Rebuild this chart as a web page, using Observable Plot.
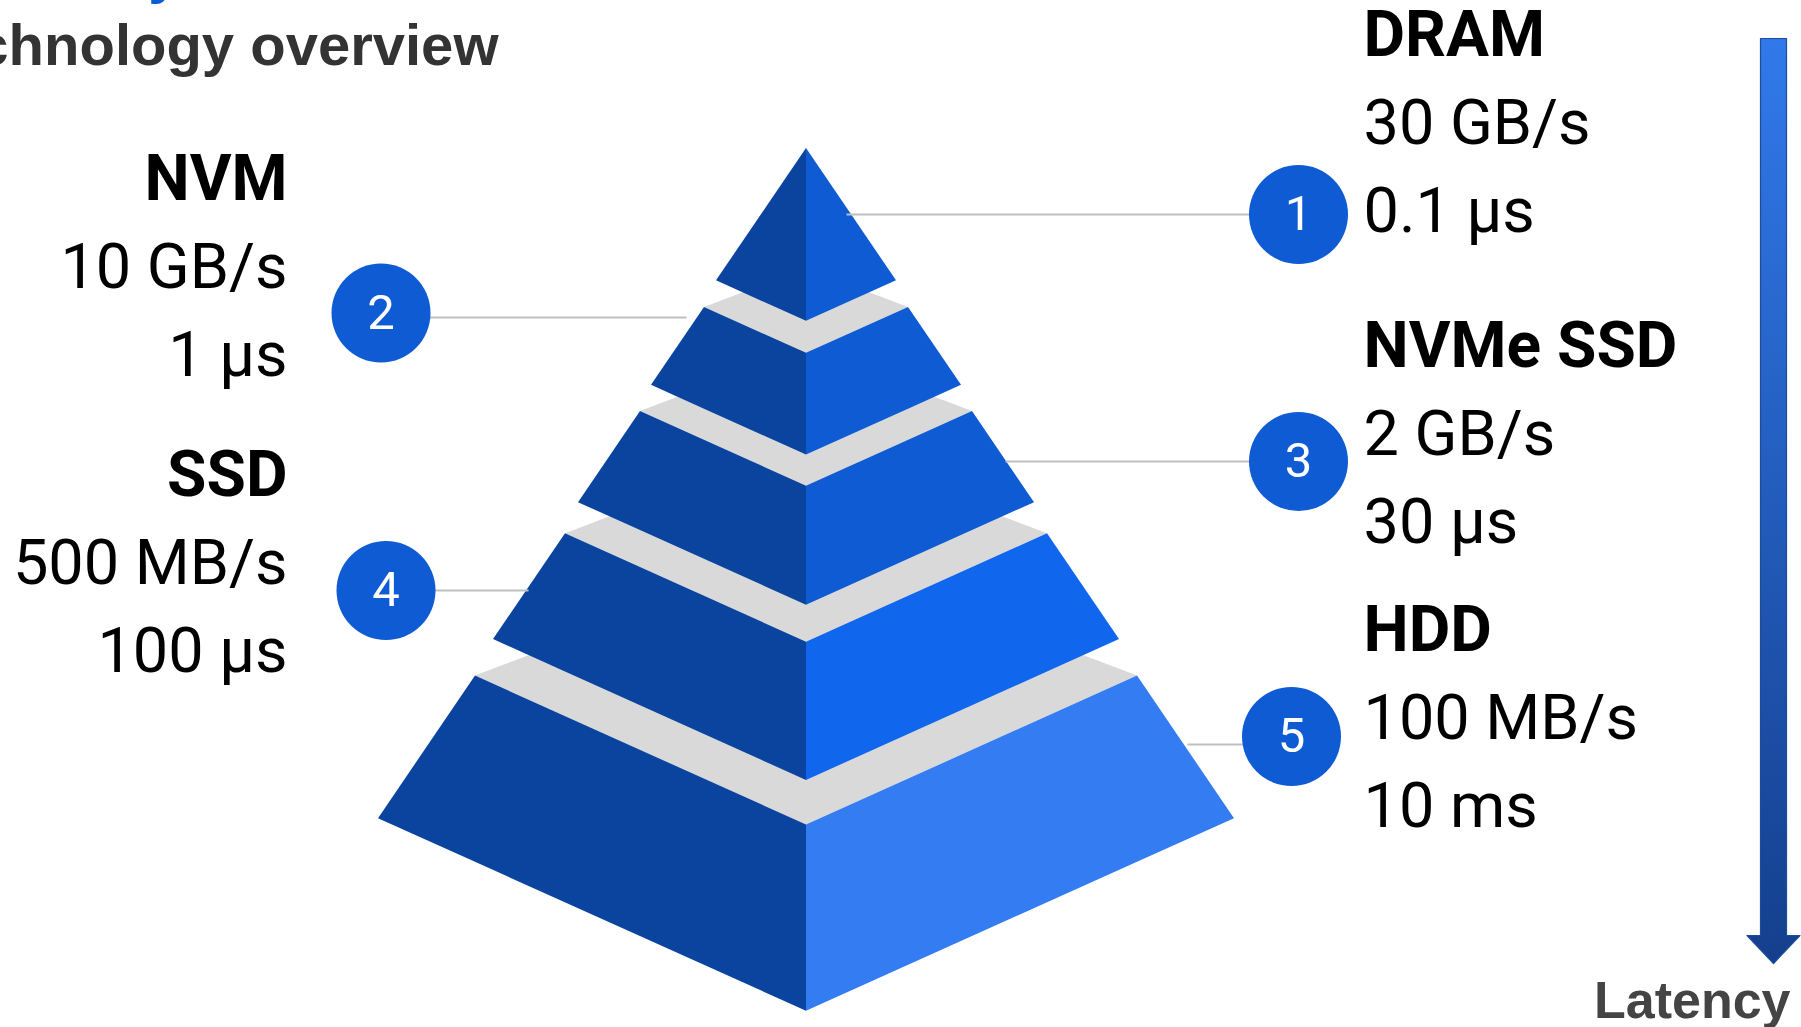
<!DOCTYPE html>
<html>
<head>
<meta charset="utf-8">
<script src="https://cdn.jsdelivr.net/npm/d3@7"></script>
<script src="https://cdn.jsdelivr.net/npm/@observablehq/plot@0.6"></script>
<style>
html, body { margin: 0; padding: 0; background: #fff; overflow: hidden; }
#chart svg { display: block; }
</style>
</head>
<body>
<div id="chart"></div>
<script>
// ---------- data ----------
const ranks = [1, 2, 3, 4, 5];
const tiers = ["DRAM", "NVM", "NVMe SSD", "SSD", "HDD"];
const bandwidth = ["30 GB/s", "10 GB/s", "2 GB/s", "500 MB/s", "100 MB/s"];
const latency = ["0.1 µs", "1 µs", "30 µs", "100 µs", "10 ms"];
const labelSide = ["right", "left", "right", "left", "right"];
const titleText = "Technology overview";
const kickerText = "Memory hierarchy";
const arrowLabel = "Latency";

// ---------- layout (pixel space) ----------
const W = 1801, H = 1027;
const cx = 806;                       // pyramid axis
const slope = 1.47;                   // corner drop per unit of half-width
const drop = 0.45;                    // front vertex below corners (x half-width)
const rise = 0.38;                    // back vertex above corners (x half-width)
const tierHalfWidth = [[0, 90], [102, 155], [166, 228], [241, 313], [331, 428]];
const tierOffset = [148, 157, 167, 179, 189];
const circleX = [1298, 380.5, 1298, 385.5, 1291];
const circleY = [214, 312.5, 461, 590, 736];
const leaderY = [214, 317, 461, 590, 744];
const leaderEnd = [846, 686, 1005, 528, 1187];
const labelTop = [55, 199, 366, 495, 650];
const labelX = {right: 1363, left: 287};
const lineGap = 88;
const arrow = {x: 1773, bar: 13, head: 26.5, top: 38, neck: 935, tip: 963};

// ---------- styles ----------
const leftFace = "#0A449F";
const rightFace = ["#0E5BD3", "#0E5BD3", "#0E5BD3", "#1067EE", "#337CF2"];
const topFace = "#D9D9D9";
const circleFill = "#0E5BD3";
const leaderColor = "#BFBFBF";
const labelFont = "Roboto, 'Noto Sans', sans-serif";
const headFont = "'Liberation Sans', Arial, sans-serif";

// ---------- geometry built from the model ----------
const cornerY = (i, hw) => slope * hw + tierOffset[i];
const faces = [];
const tops = [];
ranks.forEach((r, i) => {
  const [h0, h1] = tierHalfWidth[i];
  const y0 = cornerY(i, h0), y1 = cornerY(i, h1);
  const L = "L" + r, R = "R" + r;
  faces.push(
    {id: L, x: cx - h1, y1: y1, y2: y1, fill: leftFace},
    {id: L, x: cx - h0, y1: y0, y2: y1 + drop * (h1 - h0), fill: leftFace},
    {id: L, x: cx, y1: y0 + drop * h0, y2: y1 + drop * h1, fill: leftFace},
    {id: R, x: cx, y1: y0 + drop * h0, y2: y1 + drop * h1, fill: rightFace[i]},
    {id: R, x: cx + h0, y1: y0, y2: y1 + drop * (h1 - h0), fill: rightFace[i]},
    {id: R, x: cx + h1, y1: y1, y2: y1, fill: rightFace[i]}
  );
  if (h0 > 0) {
    const T = "T" + r;
    tops.push(
      {id: T, x: cx - h0, y1: y0, y2: y0},
      {id: T, x: cx, y1: y0 - rise * h0, y2: y0 + drop * h0},
      {id: T, x: cx + h0, y1: y0, y2: y0}
    );
  }
});

const leaders = ranks.map((r, i) => ({x1: leaderEnd[i], x2: circleX[i], y: leaderY[i]}));
const badges = ranks.map((r, i) => ({r, x: circleX[i], y: circleY[i]}));

const labelRows = ranks.flatMap((r, i) =>
  [tiers[i], bandwidth[i], latency[i]].map((t, j) => ({
    text: t, side: labelSide[i], bold: j === 0,
    x: labelX[labelSide[i]], y: labelTop[i] + j * lineGap
  }))
);

const arrowPts = [
  [arrow.x - arrow.bar, arrow.top], [arrow.x + arrow.bar, arrow.top],
  [arrow.x + arrow.bar, arrow.neck], [arrow.x + arrow.head, arrow.neck],
  [arrow.x, arrow.tip], [arrow.x - arrow.head, arrow.neck],
  [arrow.x - arrow.bar, arrow.neck], [arrow.x - arrow.bar, arrow.top]
].map(([x, y]) => ({x, y}));

const textMark = (rows, anchor, bold) => Plot.text(rows.filter(d => d.side === anchor && d.bold === bold), {
  x: "x", y: "y", text: "text",
  textAnchor: anchor === "right" ? "start" : "end",
  lineAnchor: "bottom",
  fontSize: bold ? 64 : 63,
  fontWeight: bold ? "bold" : "normal",
  fontFamily: labelFont,
  fill: "#000"
});

const chart = Plot.plot({
  width: W,
  height: H,
  margin: 0,
  x: {domain: [0, W], range: [0, W], axis: null},
  y: {domain: [0, H], range: [0, H], axis: null},
  color: {type: "identity"},
  style: {background: "#fff", overflow: "hidden"},
  marks: [
    Plot.area(tops, {x1: "x", y1: "y1", y2: "y2", z: "id", fill: topFace, curve: "linear"}),
    Plot.area(faces, {x1: "x", y1: "y1", y2: "y2", z: "id", fill: "fill", curve: "linear"}),
    Plot.link(leaders, {x1: "x1", x2: "x2", y1: "y", y2: "y", stroke: leaderColor, strokeWidth: 2}),
    Plot.dot(badges, {x: "x", y: "y", r: 49.5, fill: circleFill}),
    Plot.text(badges, {x: "x", y: "y", text: d => String(d.r), fill: "#fff", fontSize: 49, fontFamily: labelFont}),
    textMark(labelRows, "right", true),
    textMark(labelRows, "right", false),
    textMark(labelRows, "left", true),
    textMark(labelRows, "left", false),
    Plot.line(arrowPts, {x: "x", y: "y", fill: "url(#latGrad)", stroke: "#1D4C9A", strokeWidth: 1.2, curve: "linear"}),
    Plot.text([arrowLabel], {x: 1790, y: 1017, text: d => d, textAnchor: "end", lineAnchor: "bottom",
      fontSize: 52, fontWeight: "bold", fontFamily: headFont, fill: "#444"}),
    Plot.text([titleText], {x: 498, y: 64, text: d => d, textAnchor: "end", lineAnchor: "bottom",
      fontSize: 58, fontWeight: "bold", fontFamily: headFont, fill: "#333"}),
    Plot.text([kickerText], {x: 180, y: -9, text: d => d, textAnchor: "end", lineAnchor: "bottom",
      fontSize: 58, fontWeight: "bold", fontFamily: headFont, fill: "#0B5CD5"})
  ]
});

// gradient for the latency arrow
const svg = chart.tagName.toLowerCase() === "svg" ? chart : chart.querySelector("svg");
const defs = d3.select(svg).insert("defs", ":first-child");
const grad = defs.append("linearGradient")
  .attr("id", "latGrad")
  .attr("gradientUnits", "userSpaceOnUse")
  .attr("x1", 0).attr("x2", 0)
  .attr("y1", arrow.top).attr("y2", arrow.tip);
grad.append("stop").attr("offset", 0).attr("stop-color", "#3179EA");
grad.append("stop").attr("offset", 1).attr("stop-color", "#143F8D");

document.getElementById("chart").appendChild(chart);
</script>
</body>
</html>
